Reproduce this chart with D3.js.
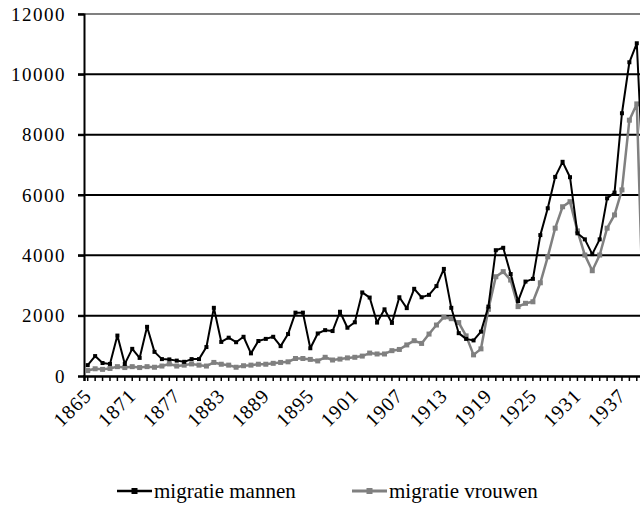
<!DOCTYPE html>
<html>
<head>
<meta charset="utf-8">
<script src="https://cdn.jsdelivr.net/npm/d3@7"></script>
<style>
  body { margin: 0; background: #fff; }
  svg { display: block; }
  text { font-family: "Liberation Serif", "DejaVu Serif", serif; fill: #000; }
</style>
</head>
<body>
<svg id="chart" width="640" height="510"></svg>
<script>
// years 1865 - 1940
const years = d3.range(1865, 1941);

const mannen = [
    360, 660, 430, 400, 1340, 400, 900, 600, 1630, 800,
    560, 550, 510, 470, 560, 560, 960, 2260, 1130, 1270,
    1120, 1300, 750, 1160, 1230, 1300, 990, 1390, 2100, 2100,
    920, 1410, 1520, 1490, 2130, 1600, 1780, 2770, 2600, 1770,
    2210, 1760, 2610, 2250, 2890, 2610, 2690, 2980, 3550, 2260,
    1420, 1230, 1180, 1470, 2300, 4170, 4250, 3380, 2480, 3130,
    3220, 4670, 5560, 6600, 7100, 6590, 4730, 4530, 4040, 4530,
    5890, 6080, 8710, 10400, 11030, 5830
];

const vrouwen = [
    180, 240, 220, 250, 310, 280, 310, 280, 310, 290,
    330, 400, 330, 360, 400, 360, 330, 450, 390, 360,
    290, 340, 360, 390, 390, 420, 450, 470, 580, 580,
    550, 500, 620, 530, 560, 600, 620, 660, 760, 730,
    730, 840, 880, 1030, 1170, 1080, 1390, 1690, 1950, 1900,
    1770, 1330, 700, 900, 2210, 3290, 3460, 3180, 2300, 2410,
    2460, 3090, 3950, 4900, 5610, 5780, 4810, 4010, 3490, 4010,
    4900, 5340, 6170, 8480, 9020, 900
];

const yTicks = [0, 2000, 4000, 6000, 8000, 10000, 12000];
const xLabels = [1865, 1871, 1877, 1883, 1889, 1895, 1901, 1907, 1913, 1919, 1925, 1931, 1937];

const svg = d3.select("#chart");

const left = 84;
const xScale = d3.scaleBand()
    .domain(years)
    .range([left, left + years.length * 7.42]);
const bw = xScale.bandwidth();
const cx = function (yr) { return xScale(yr) + bw / 2; };

const yScale = d3.scaleLinear()
    .domain([0, 12000])
    .range([376, 14]);

// gridlines (top one is the grey plot border)
svg.append("g")
    .selectAll("line")
    .data(yTicks.filter(function (d) { return d > 0; }))
    .join("line")
    .attr("x1", 78)
    .attr("x2", 640)
    .attr("y1", function (d) { return yScale(d); })
    .attr("y2", function (d) { return yScale(d); })
    .attr("stroke", function (d) { return d === 12000 ? "#808080" : "#000"; })
    .attr("stroke-width", 2);

// y axis
const yAxis = svg.append("g")
    .attr("transform", `translate(${left}, 0)`)
    .call(d3.axisLeft(yScale).tickValues(yTicks).tickSize(6).tickPadding(12).tickFormat(d3.format("d")));
yAxis.select(".domain").attr("stroke", "#000").attr("stroke-width", 2);
yAxis.selectAll(".tick line").attr("stroke", "#000").attr("stroke-width", 2);
yAxis.selectAll(".tick text")
    .style("font-family", "'Liberation Serif', serif")
    .style("font-size", "19px")
    .style("letter-spacing", "1.5px");

// x axis: one tick per year
const xAxis = svg.append("g")
    .attr("transform", "translate(0, 376)")
    .call(d3.axisBottom(xScale).tickSize(5).tickFormat(""));
xAxis.select(".domain").attr("stroke", "#000").attr("stroke-width", 2.5);
xAxis.selectAll(".tick line").attr("stroke", "#000").attr("stroke-width", 1.5);

// rotated year labels
svg.append("g")
    .selectAll("text")
    .data(xLabels)
    .join("text")
    .attr("transform", function (d) { return `translate(${cx(d) + 5}, 397) rotate(-45)`; })
    .attr("text-anchor", "end")
    .style("font-size", "20px")
    .style("letter-spacing", "1px")
    .text(function (d) { return d; });

// series
const series = [
    { name: "migratie mannen", values: mannen, color: "#000", width: 2, size: 4 },
    { name: "migratie vrouwen", values: vrouwen, color: "#808080", width: 2.5, size: 5 }
];

const line = d3.line()
    .x(function (d, i) { return cx(years[i]); })
    .y(function (d) { return yScale(d); });

const plot = svg.append("g");
series.slice().reverse().forEach(function (s) {
    plot.append("path")
        .datum(s.values)
        .attr("fill", "none")
        .attr("stroke", s.color)
        .attr("stroke-width", s.width)
        .attr("stroke-linejoin", "round")
        .attr("d", line);
    plot.append("g")
        .selectAll("rect")
        .data(s.values)
        .join("rect")
        .attr("x", function (d, i) { return cx(years[i]) - s.size / 2; })
        .attr("y", function (d) { return yScale(d) - s.size / 2; })
        .attr("width", s.size)
        .attr("height", s.size)
        .attr("fill", s.color);
});

// legend
const legendX = [117, 352];
const legend = svg.append("g")
    .selectAll("g")
    .data(series)
    .join("g")
    .attr("transform", function (d, i) { return `translate(${legendX[i]}, 491)`; });
legend.append("line")
    .attr("x1", 0).attr("x2", 35)
    .attr("stroke", function (d) { return d.color; })
    .attr("stroke-width", function (d) { return d.width + 0.5; });
legend.append("rect")
    .attr("x", 14.5).attr("y", -3).attr("width", 6).attr("height", 6)
    .attr("fill", function (d) { return d.color; });
legend.append("text")
    .attr("x", 37)
    .attr("y", 7)
    .style("font-size", "21px")
    .text(function (d) { return d.name; });
</script>
</body>
</html>
